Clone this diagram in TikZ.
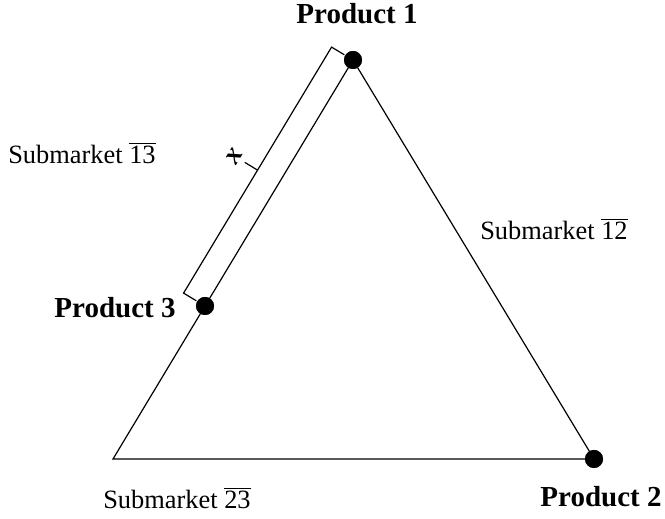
\documentclass[tikz,border=0pt]{standalone}
\usepackage{fontspec}
\setmainfont{Liberation Serif}
\usepackage{tikz}
\usetikzlibrary{calc, positioning}

\begin{document}
\begin{tikzpicture}[x=0.5pt, y=0.5pt, line width=0.6pt,
  dot/.style={circle, fill=black, inner sep=0pt, minimum size=9pt},
  prod/.style={font=\fontsize{14.5}{16}\selectfont\bfseries, inner sep=0pt},
  sub/.style={font=\fontsize{13.2}{15}\selectfont, inner sep=0pt}]
\useasboundingbox (0,0) rectangle (665,519);
% corners of the simplex
\coordinate (BL) at (113,60);
\node[dot] (P1) at (353,459) {};
\node[dot] (P2) at (594,60) {};
\node[dot] (P3) at (205,213) {};
\draw (P1.center) -- (P2.center) -- (BL) -- (P1.center);
\node[dot] at (P1) {};
\node[dot] at (P2) {};
\node[dot] at (P3) {};
% bracket for the distance x
\coordinate (M) at ($(P3)!0.5!(P1)$);
\draw ($(P1)!5pt!-90:(P3)$) -- ($(P1)!12.5pt!-90:(P3)$)
  -- ($(M)!12.5pt!-90:(P3)$) -- ($(M)!20pt!-90:(P3)$);
\draw ($(M)!12.5pt!-90:(P3)$) -- ($(P3)!12.5pt!90:(P1)$)
  -- ($(P3)!5pt!90:(P1)$);
\node[font=\fontsize{14}{16}\selectfont\bfseries\itshape, rotate=59, inner sep=0pt]
  (x) at ($(M)!26pt!-90:(P3)$) {x};
% labels
\node[prod] (l1) at (357,505) {Product 1};
\node[prod] (l2) at (601,22) {Product 2};
\node[prod] (l3) at (115,211) {Product 3};
\node[sub] (s13) at (82,366) {Submarket $\overline{\mbox{13}}$};
\node[sub] (s12) at (554,290) {Submarket $\overline{\mbox{12}}$};
\node[sub] (s23) at (177,21) {Submarket $\overline{\mbox{23}}$};
\end{tikzpicture}
\end{document}
